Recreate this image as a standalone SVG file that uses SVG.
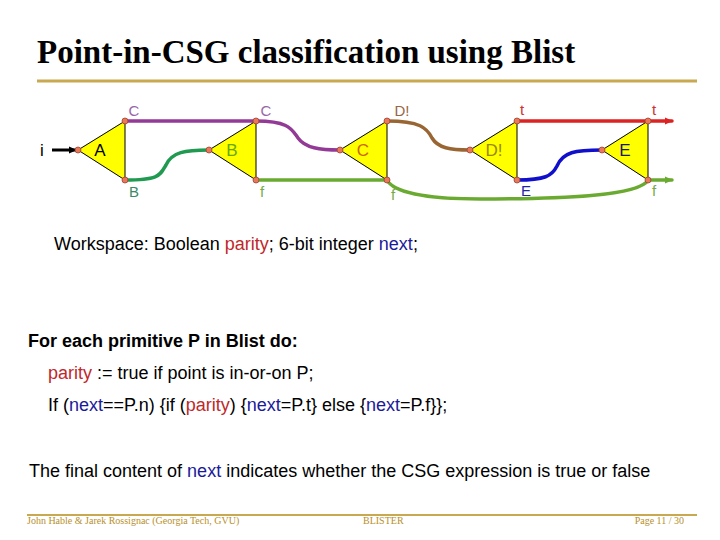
<svg xmlns="http://www.w3.org/2000/svg" width="720" height="540" viewBox="0 0 720 540">
<defs>
<style>
.tri{fill:#ffff00;stroke:#000;stroke-width:1}
.dot{fill:#e8785a;stroke:#a04030;stroke-width:0.8}
.tl{font-family:"Liberation Sans",Arial,sans-serif;font-size:17px;text-anchor:middle}
.pl{font-family:"Liberation Sans",Arial,sans-serif;font-size:15px}
.body{font-family:"Liberation Sans",Arial,sans-serif;font-size:18px;fill:#000}
.foot{font-family:"Liberation Serif","Times New Roman",serif;font-size:10px;fill:#b8902a}
.w{fill:none;stroke-width:3.5;stroke-linecap:round}
.red{fill:#c0282a}
.blue{fill:#1a1a9a}
</style>
<marker id="arR" markerWidth="8" markerHeight="8" refX="7" refY="4" orient="auto" markerUnits="userSpaceOnUse"><path d="M0,0.5 L8,4 L0,7.5 z" fill="#dd2222"/></marker>
<marker id="arG" markerWidth="8" markerHeight="8" refX="7" refY="4" orient="auto" markerUnits="userSpaceOnUse"><path d="M0,0.5 L8,4 L0,7.5 z" fill="#6aaa30"/></marker>
<marker id="arK" markerWidth="8" markerHeight="8" refX="7" refY="4" orient="auto" markerUnits="userSpaceOnUse"><path d="M0,0.5 L8,4 L0,7.5 z" fill="#000"/></marker>
</defs>
<rect width="720" height="540" fill="#fff"/>
<text x="37" y="63" font-family="Liberation Serif,'Times New Roman',serif" font-weight="bold" font-size="33" fill="#000">Point-in-CSG classification using Blist</text>
<line x1="37" y1="81" x2="697" y2="81" stroke="#c8a850" stroke-width="3"/>

<g id="connectors">
<line x1="52" y1="150" x2="76" y2="150" stroke="#000" stroke-width="3" marker-end="url(#arK)"/>
<line x1="125" y1="121" x2="256" y2="121" class="w" stroke="#933a96"/>
<path d="M125,180 C160,180 160,175 166,165 C172,152 185,150 209,150" class="w" stroke="#1f9a50"/>
<path d="M256,121 C290,121 292,130 298,138 C305,148 320,150 340,150" class="w" stroke="#933a96"/>
<line x1="256" y1="180" x2="387" y2="180" class="w" stroke="#6aaa30"/>
<path d="M387,121 C420,121 427,128 432,138 C438,148 450,150 470,150" class="w" stroke="#996633"/>
<path d="M387,180 C395,195 440,199 480,199 C560,199 640,196 648,180" class="w" stroke="#6aaa30"/>
<path d="M517,180 C545,180 552,176 557,166 C563,152 575,150 602,150" class="w" stroke="#1010cc"/>
<line x1="517" y1="121" x2="672" y2="121" class="w" stroke="#dd2222" marker-end="url(#arR)"/>
<line x1="648" y1="180" x2="672" y2="180" class="w" stroke="#6aaa30" marker-end="url(#arG)"/>
</g>

<text x="42" y="156" font-family="Liberation Sans,Arial,sans-serif" font-size="17" fill="#000" text-anchor="middle">i</text>

<g id="nodeA">
<polygon class="tri" points="78,150 125,121 125,180"/>
<text class="tl" x="100" y="156" fill="#000">A</text>
<circle class="dot" cx="78" cy="150" r="3"/><circle class="dot" cx="125" cy="121" r="3"/><circle class="dot" cx="125" cy="180" r="3"/>
<text class="pl" x="134" y="116" fill="#9966aa" text-anchor="middle">C</text>
<text class="pl" x="134" y="197" fill="#3a8a6a" text-anchor="middle">B</text>
</g>
<g id="nodeB">
<polygon class="tri" points="209,150 256,121 256,180"/>
<text class="tl" x="232" y="156" fill="#66aa00">B</text>
<circle class="dot" cx="209" cy="150" r="3"/><circle class="dot" cx="256" cy="121" r="3"/><circle class="dot" cx="256" cy="180" r="3"/>
<text class="pl" x="266" y="116" fill="#9966aa" text-anchor="middle">C</text>
<text class="pl" x="262" y="197" fill="#77aa44" text-anchor="middle">f</text>
</g>
<g id="nodeC">
<polygon class="tri" points="340,150 387,121 387,180"/>
<text class="tl" x="363" y="156" fill="#cc6600">C</text>
<circle class="dot" cx="340" cy="150" r="3"/><circle class="dot" cx="387" cy="121" r="3"/><circle class="dot" cx="387" cy="180" r="3"/>
<text class="pl" x="402" y="116" fill="#996644" text-anchor="middle">D!</text>
<text class="pl" x="393" y="200" fill="#77aa44" text-anchor="middle">f</text>
</g>
<g id="nodeD">
<polygon class="tri" points="470,150 517,121 517,180"/>
<text class="tl" x="494" y="156" fill="#998800">D!</text>
<circle class="dot" cx="470" cy="150" r="3"/><circle class="dot" cx="517" cy="121" r="3"/><circle class="dot" cx="517" cy="180" r="3"/>
<text class="pl" x="522" y="115" fill="#cc3333" text-anchor="middle">t</text>
<text class="pl" x="526" y="196" fill="#2222aa" text-anchor="middle">E</text>
</g>
<g id="nodeE">
<polygon class="tri" points="602,150 648,121 648,180"/>
<text class="tl" x="625" y="156" fill="#1a1a5a">E</text>
<circle class="dot" cx="602" cy="150" r="3"/><circle class="dot" cx="648" cy="121" r="3"/><circle class="dot" cx="648" cy="180" r="3"/>
<text class="pl" x="654" y="115" fill="#cc3333" text-anchor="middle">t</text>
<text class="pl" x="654" y="196" fill="#77aa44" text-anchor="middle">f</text>
</g>

<text class="body" x="54" y="250">Workspace: Boolean <tspan class="red">parity</tspan>; 6-bit integer <tspan class="blue">next</tspan>;</text>
<text class="body" x="28" y="347" font-weight="bold">For each primitive P in Blist do:</text>
<text class="body" x="48" y="379"><tspan class="red">parity</tspan> := true if point is in-or-on P;</text>
<text class="body" x="48" y="411">If (<tspan class="blue">next</tspan>==P.n) {if (<tspan class="red">parity</tspan>) {<tspan class="blue">next</tspan>=P.t} else {<tspan class="blue">next</tspan>=P.f}};</text>
<text class="body" x="29" y="477">The final content of <tspan class="blue">next</tspan> indicates whether the CSG expression is true or false</text>

<line x1="27" y1="515" x2="697" y2="515" stroke="#c8a850" stroke-width="2"/>
<text class="foot" x="27" y="524">John Hable &amp; Jarek Rossignac (Georgia Tech, GVU)</text>
<text class="foot" x="363" y="524">BLISTER</text>
<text class="foot" x="684" y="524" text-anchor="end">Page 11 / 30</text>
</svg>
